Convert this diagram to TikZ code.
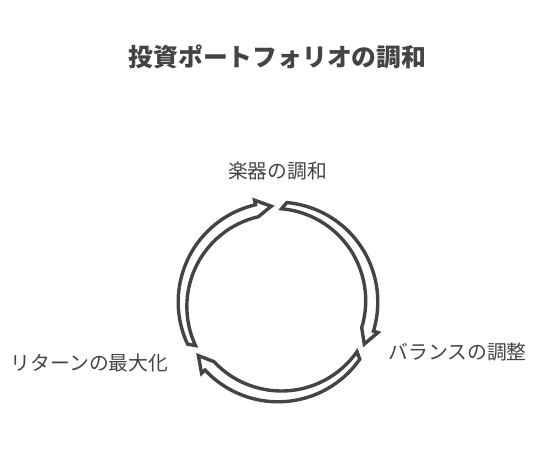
\documentclass[tikz,border=0pt]{standalone}
\usepackage{fontspec}
\setmainfont{Noto Sans CJK JP}
\usetikzlibrary{positioning}
\definecolor{ink}{HTML}{444444}
\tikzset{stage/.style = {text=ink, inner sep=0, font=\fontsize{19.8}{24}\selectfont}}
\tikzset{hollow/.style = {draw=ink, fill=white, line width=3.4pt, line join=miter}}

\begin{document}
\begin{tikzpicture}[x=1pt, y=1pt]
    \useasboundingbox (0, 0) rectangle (556, 452);

    \node [text=ink, font=\fontsize{24.8}{28}\selectfont\bfseries] (title) at (277.5, 395) {投資ポートフォリオの調和};

    \node [stage] (harmony) at (277.5, 281) {楽器の調和};
    \node [stage] (balance) at (457.5, 100) {バランスの調整};
    \node [stage] (return) at (89.5, 89) {リターンの最大化};

    \begin{scope}[shift={(278, 150)}]
      \foreach \a in {85, -35, -155} {
        \pgfmathsetmacro{\b}{\a - 111}
        \pgfmathsetmacro{\c}{\a - 102}
        \draw [hollow] (\a:99.8pt) arc [start angle=\a, end angle=\c, radius=99.8pt]
          -- (\c:104.5pt) -- (\b:96pt) -- (\c:87.5pt)
          arc [start angle=\c, end angle=\a, radius=92.2pt] -- cycle;
      }
    \end{scope}
  \end{tikzpicture}
\end{document}
